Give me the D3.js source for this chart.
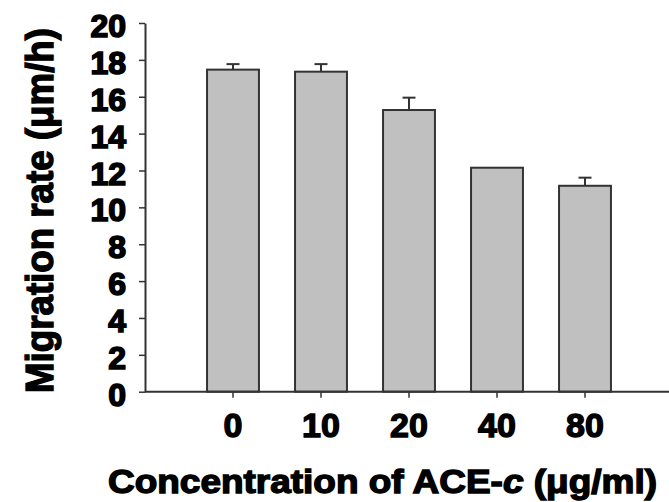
<!DOCTYPE html>
<html>
<head>
<meta charset="utf-8">
<script src="https://cdn.jsdelivr.net/npm/d3@7"></script>
<style>
  html, body { margin: 0; padding: 0; background: #fff; }
  svg { display: block; }
  text { font-family: "Liberation Sans", Arial, sans-serif; font-weight: bold; fill: #000; }
</style>
</head>
<body>
<svg id="chart" width="669" height="502"></svg>
<script>
const categories = ["0", "10", "20", "40", "80"];
const values = [17.47, 17.36, 15.28, 12.15, 11.17];
const errors = [0.30, 0.41, 0.67, 0, 0.44];
const yTicks = [0, 2, 4, 6, 8, 10, 12, 14, 16, 18, 20];
const xTitle = "Concentration of ACE-";
const xTitleItalic = "c";
const xTitleEnd = " (μg/ml)";
const yTitle = "Migration rate (μm/h)";

const svg = d3.select("#chart");
const axisColor = "#333";

const x = d3.scaleBand().domain(categories).range([145, 673]).paddingInner(0.41).paddingOuter(0.705);
const y = d3.scaleLinear().domain([0, 20]).range([391.7, 23]);

// bars
svg.append("g").selectAll("rect").data(values).join("rect")
  .attr("x", (d, i) => x(categories[i]))
  .attr("y", d => y(d))
  .attr("width", x.bandwidth())
  .attr("height", d => y(0) - y(d))
  .attr("fill", "#c0c0c0")
  .attr("stroke", axisColor)
  .attr("stroke-width", 2);

// error bars
const eg = svg.append("g").attr("stroke", axisColor).attr("stroke-width", 2);
values.forEach((v, i) => {
  if (errors[i] <= 0) return;
  const cx = x(categories[i]) + x.bandwidth() / 2;
  eg.append("line").attr("x1", cx).attr("x2", cx).attr("y1", y(v)).attr("y2", y(v + errors[i]));
  eg.append("line").attr("x1", cx - 6.5).attr("x2", cx + 6.5).attr("y1", y(v + errors[i])).attr("y2", y(v + errors[i]));
});

// y axis
const yAxis = svg.append("g").attr("transform", "translate(145,0)")
  .call(d3.axisLeft(y).tickValues(yTicks).tickSize(6).tickSizeOuter(0).tickFormat(d3.format("d")));
yAxis.select(".domain").attr("stroke", axisColor).attr("stroke-width", 2);
yAxis.selectAll(".tick line").attr("stroke", axisColor).attr("stroke-width", 1.5);
yAxis.selectAll(".tick text")
  .attr("x", -19)
  .attr("dy", "0.36em")
  .attr("y", 2)
  .style("font-size", "32px")
  .attr("stroke", "#000").attr("stroke-width", 1.6);

// x axis
const xAxis = svg.append("g").attr("transform", `translate(0,${y(0)})`)
  .call(d3.axisBottom(x).tickSize(6).tickSizeOuter(0));
xAxis.select(".domain").attr("d", `M145,0H669`).attr("stroke", axisColor).attr("stroke-width", 2);
xAxis.selectAll(".tick line").attr("stroke", axisColor).attr("stroke-width", 1.5);
xAxis.selectAll(".tick text")
  .attr("y", 45).attr("dy", 0)
  .style("font-size", "34px")
  .attr("stroke", "#000").attr("stroke-width", 1.4);

// x title
const xt = svg.append("text")
  .attr("x", 108).attr("y", 493)
  .attr("textLength", 549).attr("lengthAdjust", "spacingAndGlyphs")
  .style("font-size", "34px")
  .attr("stroke", "#000").attr("stroke-width", 1.4);
xt.append("tspan").text(xTitle);
xt.append("tspan").style("font-style", "italic").text(xTitleItalic);
xt.append("tspan").text(xTitleEnd);

// y title
svg.append("text")
  .attr("transform", "translate(53,210.5) rotate(-90)")
  .attr("text-anchor", "middle")
  .attr("textLength", 365).attr("lengthAdjust", "spacingAndGlyphs")
  .style("font-size", "38px")
  .attr("stroke", "#000").attr("stroke-width", 1.4)
  .text(yTitle);
</script>
</body>
</html>
